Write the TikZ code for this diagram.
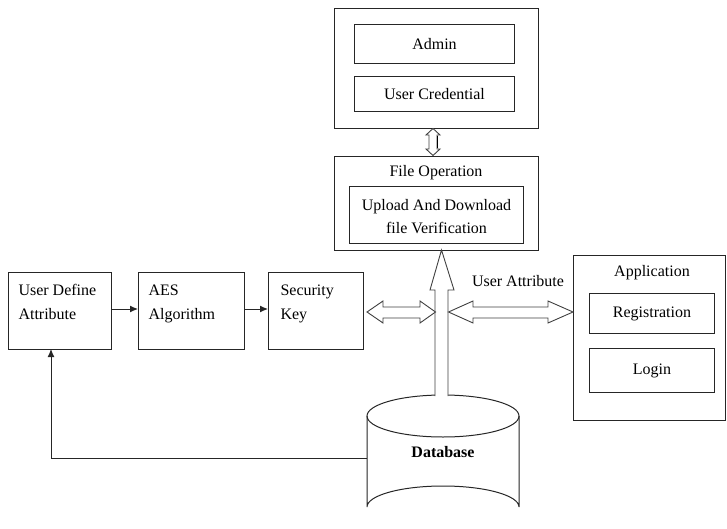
\documentclass[tikz,border=0pt]{standalone}
\usepackage{fontspec}
\setmainfont{Liberation Serif}
\usetikzlibrary{arrows.meta,calc}
\begin{document}
\begin{tikzpicture}[x=1pt,y=-1pt,
  line width=1pt,
  every node/.style={font=\fontsize{16}{24}\selectfont, inner sep=0pt},
  box/.style={draw=black!85, rectangle, anchor=north west},
  hollow/.style={draw=black!75, fill=white, line width=0.9pt, line join=miter},
  arr/.style={draw=black!85, -{Latex[length=8pt,width=7pt]}}
]
\useasboundingbox (0,0) rectangle (727,529);

% Admin group
\node[box, minimum width=204, minimum height=120] (adminouter) at (334,8) {};
\node[box, minimum width=160, minimum height=39] (admin) at (354,24) {};
\node at (admin.center) {Admin};
\node[box, minimum width=160, minimum height=35] (cred) at (354,76) {};
\node at (cred.center) {User Credential};

% File operation
\node[box, minimum width=204, minimum height=94] (fileop) at (334,156) {};
\node (fotext) at (436,173) {File Operation};
\node[box, minimum width=174, minimum height=57] (upload) at (349,186) {};
\node[align=center, font=\fontsize{16}{23}\selectfont] at ($(upload.center)+(0,1.5)$) {Upload And Download\\file Verification};

% Left boxes
\node[box, minimum width=103, minimum height=77] (ud) at (8,272) {};
\node[anchor=north west, align=left] at ($(ud.north west)+(10,12)$) {User Define\\Attribute};
\node[box, minimum width=106, minimum height=77] (aes) at (138,272) {};
\node[anchor=north west, align=left] at ($(aes.north west)+(10,12)$) {AES\\Algorithm};
\node[box, minimum width=95, minimum height=77] (sk) at (268,272) {};
\node[anchor=north west, align=left] at ($(sk.north west)+(12,12)$) {Security\\Key};

\coordinate (udr) at (111,309);
\coordinate (aesl) at (138,309);
\coordinate (aesr) at (244,309);
\coordinate (skl) at (268,309);
\draw[arr] (udr) -- (aesl);
\draw[arr] (aesr) -- (skl);

% Application
\node[box, minimum width=152, minimum height=165] (app) at (573,255) {};
\node (apptext) at (652,273) {Application};
\node[box, minimum width=125, minimum height=40] (reg) at (589,293) {};
\node at (reg.center) {Registration};
\node[box, minimum width=125, minimum height=44] (login) at (589,348) {};
\node at (login.center) {Login};

% Database
\coordinate (dbc) at (443,416);
\draw[draw=black!85, fill=white] (367,416) -- (367,507) arc[start angle=180, end angle=360, x radius=76, y radius=21] -- (519,416);
\draw[draw=black!85] (dbc) ellipse[x radius=76, y radius=21];
\node[font=\fontsize{16}{20}\selectfont\bfseries] (dbtext) at (443,452) {Database};
\coordinate (dbleft) at (367,458);
\coordinate (bend) at (51,458);
\coordinate (udb) at (51,349);

% Feedback
\draw[arr] (dbleft) -- (bend) -- (udb);

% Big up arrow DB -> File operation
\draw[hollow] (435,396) -- (435,290) -- (430,290) -- (441.5,250) -- (454,290) -- (448,290) -- (448,396);

% Security key <-> shaft
\draw[hollow] (367,312) -- (383,301) -- (383,307) -- (420,307) -- (420,301) -- (435.5,312)
  -- (420,323) -- (420,318) -- (383,318) -- (383,323) -- cycle;

% Shaft <-> Application
\draw[hollow] (448.5,312) -- (473,301) -- (473,307) -- (548,307) -- (548,301) -- (573,312)
  -- (548,323) -- (548,318) -- (473,318) -- (473,323) -- cycle;
\node (uattr) at (518,281) {User Attribute};

% Admin <-> File operation small double arrow
\draw[hollow] (433,128.5) -- (440,135) -- (437,135) -- (437,149) -- (440,149) -- (433,155.5)
  -- (426,149) -- (429,149) -- (429,135) -- (426,135) -- cycle;
\draw[black, line width=1.3pt] (437.5,136) -- (437.5,148);
\end{tikzpicture}
\end{document}
